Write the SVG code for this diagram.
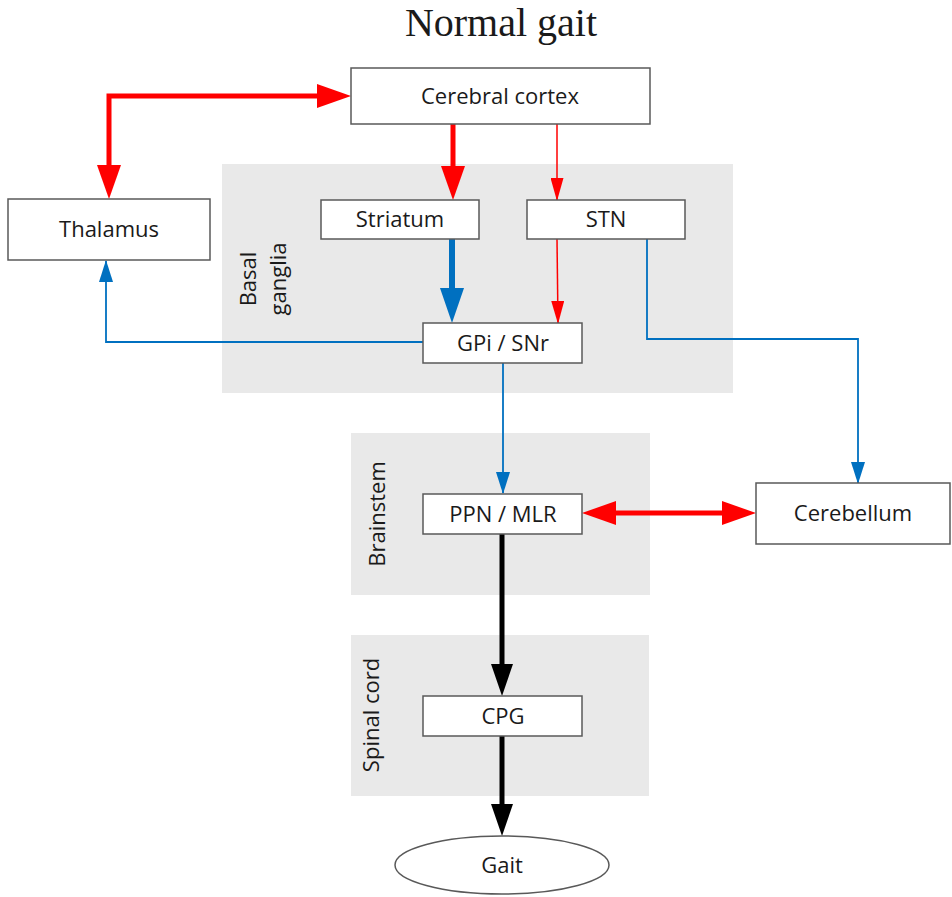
<svg xmlns="http://www.w3.org/2000/svg" width="952" height="897" viewBox="0 0 952 897">
<style>
.bg{fill:#e9e9e9;stroke:none}
.box{fill:#fff;stroke:#595959;stroke-width:1.5}
.lbl{font-family:"Open Sans","Noto Sans",sans-serif;font-size:22px;fill:#1a1a1a;text-anchor:middle}
.title{font-family:"Liberation Serif","DejaVu Serif",serif;font-size:40px;fill:#1a1a1a;text-anchor:middle}
.c{fill:none;stroke-linejoin:miter}
.rb{stroke:#ff0000;stroke-width:5}
.rt{stroke:#ff0000;stroke-width:1.5}
.bb{stroke:#0070c0;stroke-width:6}
.bt{stroke:#0070c0;stroke-width:1.8}
.kb{stroke:#000;stroke-width:5}
</style>
<defs>
<marker id="mRB" markerUnits="userSpaceOnUse" viewBox="0 0 34 24" markerWidth="34" markerHeight="24" refX="17" refY="12" orient="auto-start-reverse"><path d="M0,0 L34,12 L0,24 z" fill="#ff0000"/></marker>
<marker id="mRT" markerUnits="userSpaceOnUse" viewBox="0 0 23 13" markerWidth="23" markerHeight="13" refX="22" refY="6.5" orient="auto"><path d="M0,0 L23,6.5 L0,13 z" fill="#ff0000"/></marker>
<marker id="mBB" markerUnits="userSpaceOnUse" viewBox="0 0 35 24" markerWidth="35" markerHeight="24" refX="17" refY="12" orient="auto"><path d="M0,0 L35,12 L0,24 z" fill="#0070c0"/></marker>
<marker id="mBT" markerUnits="userSpaceOnUse" viewBox="0 0 22 14" markerWidth="22" markerHeight="14" refX="21" refY="7" orient="auto"><path d="M0,0 L22,7 L0,14 z" fill="#0070c0"/></marker>
<marker id="mK" markerUnits="userSpaceOnUse" viewBox="0 0 32 22" markerWidth="32" markerHeight="22" refX="16" refY="11" orient="auto"><path d="M0,0 L32,11 L0,22 z" fill="#000"/></marker>
</defs>
<rect width="952" height="897" fill="#fff"/>
<text class="title" x="501" y="36">Normal gait</text>

<g id="regions">
<rect class="bg" x="222" y="164" width="511" height="229"/>
<rect class="bg" x="351" y="433" width="299" height="162"/>
<rect class="bg" x="351" y="635" width="298" height="161"/>
<text class="lbl" transform="translate(256,279) rotate(-90)">Basal</text>
<text class="lbl" transform="translate(286,279) rotate(-90)">ganglia</text>
<text class="lbl" transform="translate(385,514) rotate(-90)">Brainstem</text>
<text class="lbl" transform="translate(379,715) rotate(-90)">Spinal cord</text>
</g>

<g id="connectors">
<path class="c rb" d="M109,182 L109,96 L334,96" marker-start="url(#mRB)" marker-end="url(#mRB)"/>
<path class="c rb" d="M453,124 L453,183" marker-end="url(#mRB)"/>
<path class="c rt" d="M557,124 L557,200" marker-end="url(#mRT)"/>
<path class="c bb" d="M452,239 L452,305" marker-end="url(#mBB)"/>
<path class="c rt" d="M557,239 L558,323" marker-end="url(#mRT)"/>
<path class="c bt" d="M423,342 L106,342 L106,261" marker-end="url(#mBT)"/>
<path class="c bt" d="M647,239 L647,339 L858,339 L858,483" marker-end="url(#mBT)"/>
<path class="c bt" d="M503,363 L503,493" marker-end="url(#mBT)"/>
<path class="c rb" d="M599,513 L739,513" marker-start="url(#mRB)" marker-end="url(#mRB)"/>
<path class="c kb" d="M502,534 L502,680" marker-end="url(#mK)"/>
<path class="c kb" d="M502,736 L502,820" marker-end="url(#mK)"/>
</g>

<g id="cortex"><rect class="box" x="351" y="68" width="299" height="56"/><text class="lbl" x="500" y="104">Cerebral cortex</text></g>
<g id="thalamus"><rect class="box" x="8" y="199" width="202" height="61"/><text class="lbl" x="109" y="237">Thalamus</text></g>
<g id="striatum"><rect class="box" x="321" y="200" width="158" height="39"/><text class="lbl" x="400" y="227">Striatum</text></g>
<g id="stn"><rect class="box" x="527" y="200" width="158" height="39"/><text class="lbl" x="606" y="227">STN</text></g>
<g id="gpi"><rect class="box" x="423" y="323" width="159" height="40"/><text class="lbl" x="503" y="351">GPi / SNr</text></g>
<g id="ppn"><rect class="box" x="423" y="494" width="159" height="40"/><text class="lbl" x="503" y="522">PPN / MLR</text></g>
<g id="cerebellum"><rect class="box" x="756" y="483" width="194" height="61"/><text class="lbl" x="853" y="521">Cerebellum</text></g>
<g id="cpg"><rect class="box" x="423" y="696" width="159" height="40"/><text class="lbl" x="503" y="724">CPG</text></g>
<g id="gait"><ellipse class="box" cx="502" cy="865" rx="107" ry="29"/><text class="lbl" x="502" y="873">Gait</text></g>
</svg>
